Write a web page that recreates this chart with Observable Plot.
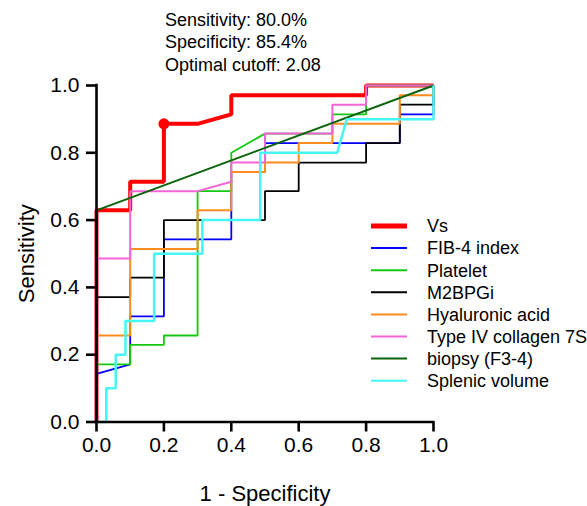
<!DOCTYPE html>
<html>
<head>
<meta charset="utf-8">
<script src="https://cdn.jsdelivr.net/npm/d3@7"></script>
<script src="https://cdn.jsdelivr.net/npm/@observablehq/plot@0.6"></script>
<style>
  html, body { margin: 0; padding: 0; background: white; }
  #chart { position: relative; width: 587px; height: 506px; }
</style>
</head>
<body>
<div id="chart"></div>
<script>
// ---- data (ROC points: 1 - specificity, sensitivity) ----
const seriesNames = ["Vs", "FIB-4 index", "Platelet", "M2BPGi", "Hyaluronic acid", "Type IV collagen 7S", "biopsy (F3-4)", "Splenic volume"];
const seriesColors = ["#ff0000", "#0000ff", "#14c814", "#000000", "#ff8c1e", "#f564d7", "#0a640a", "#46f5f5"];

const vsX = [0, 0, 0.1, 0.1, 0.2, 0.2, 0.3, 0.4, 0.4, 0.8, 0.8, 1];
const vsY = [0, 0.629, 0.629, 0.714, 0.714, 0.886, 0.886, 0.914, 0.971, 0.971, 1, 1];

const fib4X = [0, 0, 0.1, 0.1, 0.2, 0.2, 0.4, 0.4, 0.5, 0.5, 0.9, 0.9, 1, 1];
const fib4Y = [0, 0.143, 0.171, 0.314, 0.314, 0.543, 0.543, 0.743, 0.743, 0.829, 0.829, 0.914, 0.914, 1];

const platX = [0, 0, 0.1, 0.1, 0.2, 0.2, 0.3, 0.3, 0.4, 0.4, 0.5, 0.7, 0.7, 0.8, 0.8, 1];
const platY = [0, 0.171, 0.171, 0.229, 0.229, 0.257, 0.257, 0.686, 0.686, 0.8, 0.857, 0.857, 0.914, 0.914, 1, 1];

const m2X = [0, 0, 0.1, 0.1, 0.2, 0.2, 0.5, 0.5, 0.6, 0.6, 0.8, 0.8, 0.9, 0.9, 1, 1];
const m2Y = [0, 0.371, 0.371, 0.429, 0.429, 0.6, 0.6, 0.686, 0.686, 0.771, 0.771, 0.829, 0.829, 0.943, 0.943, 1];

const haX = [0, 0, 0.1, 0.1, 0.3, 0.3, 0.4, 0.4, 0.5, 0.5, 0.6, 0.6, 0.7, 0.7, 0.9, 0.9, 1, 1];
const haY = [0, 0.257, 0.257, 0.514, 0.514, 0.629, 0.629, 0.743, 0.743, 0.771, 0.771, 0.829, 0.829, 0.886, 0.886, 0.971, 0.971, 1];

const col4X = [0, 0, 0.1, 0.1, 0.3, 0.4, 0.4, 0.5, 0.5, 0.7, 0.7, 0.8, 0.8, 1];
const col4Y = [0, 0.486, 0.486, 0.686, 0.686, 0.714, 0.771, 0.771, 0.857, 0.857, 0.943, 0.943, 1, 1];

const biopX = [0, 0, 1];
const biopY = [0, 0.629, 1];

const splX = [0, 0.029, 0.029, 0.057, 0.057, 0.086, 0.086, 0.171, 0.171, 0.314, 0.314, 0.486, 0.486, 0.714, 0.743, 1, 1];
const splY = [0, 0, 0.1, 0.1, 0.2, 0.2, 0.3, 0.3, 0.5, 0.5, 0.6, 0.6, 0.8, 0.8, 0.9, 0.9, 1];

const optimalX = [0.2];
const optimalY = [0.886];

const xTicks = [0, 0.2, 0.4, 0.6, 0.8, 1.0];
const yTicks = [0, 0.2, 0.4, 0.6, 0.8, 1.0];
const annotationLines = ["Sensitivity: 80.0%", "Specificity: 85.4%", "Optimal cutoff: 2.08"];

// ---- build ----
const allX = [vsX, fib4X, platX, m2X, haX, col4X, biopX, splX];
const allY = [vsY, fib4Y, platY, m2Y, haY, col4Y, biopY, splY];
const widths = [4, 1.8, 1.8, 1.8, 2, 2, 2, 2.5];

const rows = (i) => allX[i].map((x, j) => ({x, y: allY[i][j]}));

const lineMarks = [];
for (let i = 0; i < seriesNames.length; i++) {
  lineMarks.push(Plot.line(rows(i), {x: "x", y: "y", stroke: seriesColors[i], strokeWidth: widths[i], strokeLinejoin: "miter", strokeLinecap: "butt"}));
}

const font = "'Liberation Sans', Arial, Helvetica, sans-serif";

const plot = Plot.plot({
  width: 587,
  height: 506,
  marginLeft: 96,
  marginRight: 154,
  marginTop: 85,
  marginBottom: 84.5,
  style: {fontFamily: font, background: "white", color: "black", overflow: "visible"},
  x: {domain: [0, 1]},
  y: {domain: [0, 1]},
  marks: [
    ...lineMarks.slice(0, 1),
    Plot.dot(optimalX.map((x, j) => ({x, y: optimalY[j]})), {x: "x", y: "y", r: 5.5, fill: seriesColors[0], stroke: "none"}),
    ...lineMarks.slice(1),
    Plot.ruleX([0], {strokeWidth: 2.6, strokeLinecap: "square"}),
    Plot.ruleY([0], {strokeWidth: 2.6, strokeLinecap: "square"}),
    Plot.axisX({ticks: xTicks, tickFormat: d => d.toFixed(1), tickSize: 10, tickPadding: 5, strokeWidth: 2.6, fontSize: 21,
      label: "1 - Specificity", labelAnchor: "center", labelArrow: "none", labelOffset: 79}),
    Plot.axisY({ticks: yTicks, tickFormat: d => d.toFixed(1), tickSize: 10, tickPadding: 7, strokeWidth: 2.6, fontSize: 21,
      label: "Sensitivity", labelAnchor: "center", labelArrow: "none", labelOffset: 78})
  ]
});

// axis labels font size
d3.select(plot).selectAll("g[aria-label='x-axis label'] text, g[aria-label='y-axis label'] text").attr("font-size", 22);

document.getElementById("chart").appendChild(plot);

// ---- annotation + legend (overlay inside the svg) ----
const svg = d3.select(plot);
const ann = svg.append("g").attr("font-family", font).attr("font-size", 18).attr("fill", "black").attr("text-anchor", "start");
annotationLines.forEach((t, i) => {
  ann.append("text").attr("x", 165).attr("y", 25.5 + i * 22.5).attr("text-anchor", "start").text(t);
});

const leg = svg.append("g").attr("font-family", font).attr("font-size", 18).attr("text-anchor", "start");
seriesNames.forEach((name, i) => {
  const cy = 226 + i * 22.1;
  leg.append("line").attr("x1", 371).attr("x2", 407).attr("y1", cy).attr("y2", cy)
    .attr("stroke", seriesColors[i]).attr("stroke-width", i === 0 ? 5 : 2);
  leg.append("text").attr("x", 427).attr("y", cy).attr("dy", "0.35em").attr("fill", "black").attr("text-anchor", "start").text(name);
});
</script>
</body>
</html>
